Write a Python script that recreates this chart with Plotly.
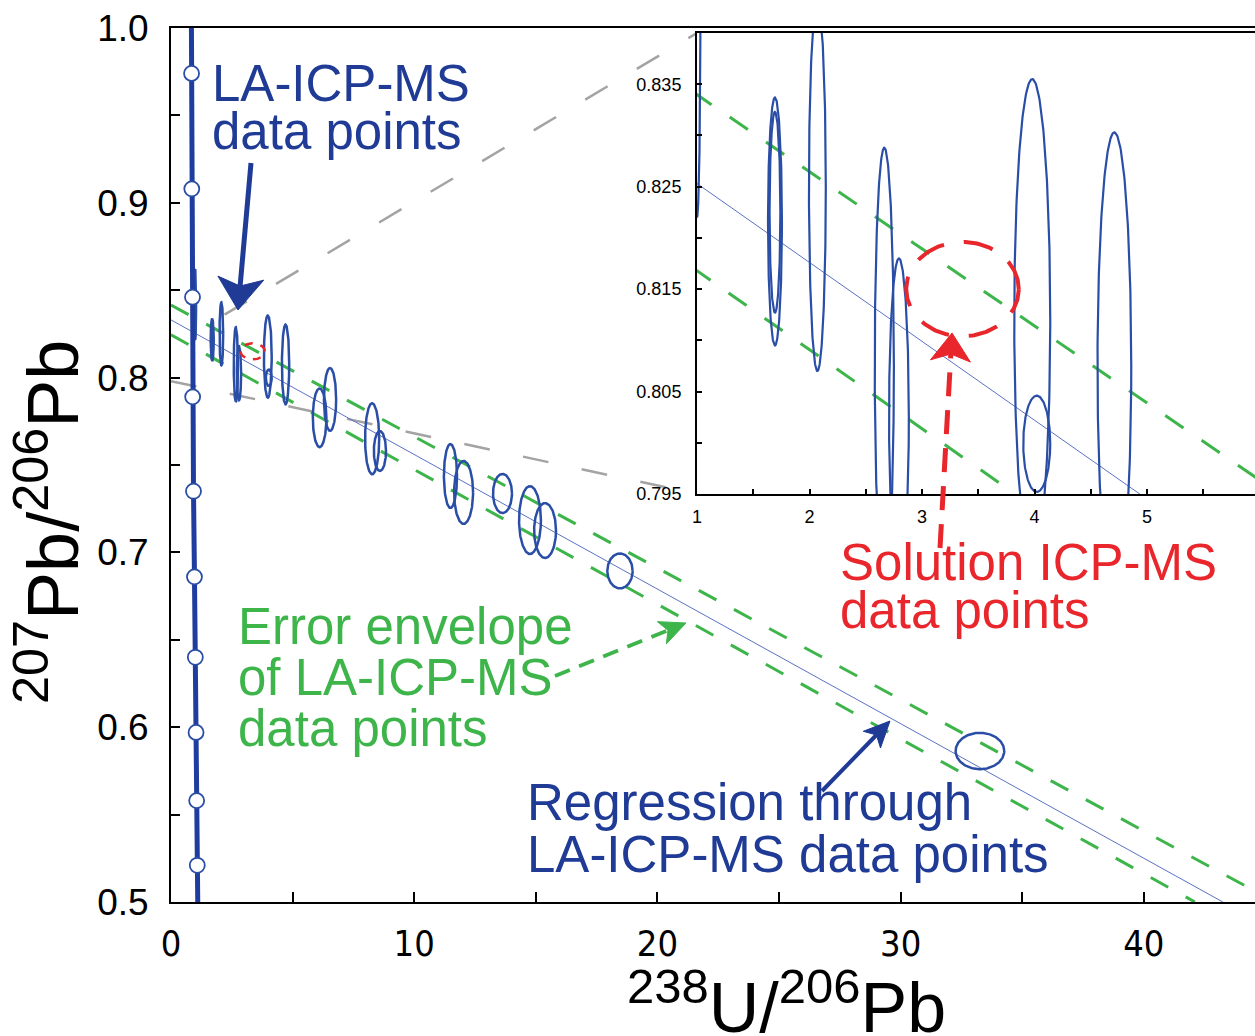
import numpy as np
import plotly.graph_objects as go

# ---------------- data ----------------
# concordia (thick blue curve) and its age-marker circles
conc_x = [0.84, 0.845, 0.855, 0.885, 0.89, 0.925, 0.965, 1.00, 1.03, 1.055, 1.08, 1.10]
conc_y = [1.00, 0.974, 0.908, 0.846, 0.789, 0.735, 0.686, 0.640, 0.597, 0.558, 0.521, 0.50]
mark_x = [0.845, 0.855, 0.885, 0.89, 0.925, 0.965, 1.00, 1.03, 1.055, 1.08]
mark_y = [0.974, 0.908, 0.846, 0.789, 0.735, 0.686, 0.640, 0.597, 0.558, 0.521]

# LA-ICP-MS error ellipses: centre and semi-axes
la_x = [1.00, 1.693, 1.693, 2.07, 2.665, 2.795, 3.98, 4.02, 4.71,
        6.11, 6.54, 8.27, 8.59, 11.49, 12.03, 13.63, 14.76, 15.38, 18.46, 33.26]
la_y = [0.842, 0.8216, 0.8225, 0.825, 0.8075, 0.8025, 0.812, 0.7999, 0.8075,
        0.777, 0.7875, 0.765, 0.758, 0.7437, 0.7343, 0.7337, 0.7185, 0.7125, 0.6894, 0.5864]
la_sx = [0.03, 0.062, 0.048, 0.075, 0.085, 0.088, 0.16, 0.12, 0.15,
         0.28, 0.25, 0.29, 0.25, 0.27, 0.39, 0.39, 0.45, 0.45, 0.52, 1.00]
la_sy = [0.020, 0.0121, 0.0098, 0.018, 0.0213, 0.0155, 0.0235, 0.0047, 0.0228,
         0.0168, 0.018, 0.0203, 0.0114, 0.0183, 0.018, 0.0112, 0.0194, 0.0157, 0.0100, 0.0104]

# solution ICP-MS point
sol_x, sol_y, sol_sx, sol_sy = [3.36], [0.815], [0.50], [0.0046]

# regression and error envelope
reg_x, reg_y = [0.0, 43.25], [0.833, 0.500]
env_up_x, env_up_y = [0.0, 44.6], [0.8415, 0.506]
env_lo_x, env_lo_y = [0.0, 42.1], [0.8245, 0.500]

# zoom-connector start points (main axes)
conn_start_x = [0.0, 2.2]
conn_start_y = [0.798, 0.836]

# axes
main_xticks = [0, 10, 20, 30, 40]
main_xtext = ["0", "10", "20", "30", "40"]
main_yticks = [0.5, 0.6, 0.7, 0.8, 0.9, 1.0]
main_ytext = ["0.5", "0.6", "0.7", "0.8", "0.9", "1.0"]
ins_xticks = [1, 2, 3, 4, 5]
ins_xtext = ["1", "2", "3", "4", "5"]
ins_yticks = [0.795, 0.805, 0.815, 0.825, 0.835]
ins_ytext = ["0.795", "0.805", "0.815", "0.825", "0.835"]

labels = ["LA-ICP-MS", "data points",
          "Error envelope", "of LA-ICP-MS", "data points",
          "Regression through", "LA-ICP-MS data points",
          "Solution ICP-MS", "data points"]

# ---------------- layout geometry ----------------
W, H = 1255, 1036
ML, MR, MT, MB = 171, 0, 28, 134
PW, PH = W - ML - MR, H - MT - MB
XR = [0, 44.57]
YR = [0.5, 1.0]
IXR = [1, 5.96]
IYR = [0.795, 0.840]


def PX(px):
    return (px - ML) / PW


def PY(py):
    return (H - MB - py) / PH


ins_dom_x = [PX(697), 1.0]
ins_dom_y = [PY(494), PY(33)]

BLUE_T = "#1f3b95"
BLUE_E = "#2a4ea6"
BLUE_C = "#1f3d9e"
GREEN = "#3db54a"
RED = "#e8262b"
GREY = "#a3a3a3"
FONT = "Liberation Sans, Arial, sans-serif"
NARROW = "Liberation Sans Narrow, Arial Narrow, DejaVu Sans Condensed, Liberation Sans, sans-serif"


def ellipses(cx, cy, sx, sy):
    t = np.linspace(0, 2 * np.pi, 241)
    xs, ys = [], []
    for a, b, c, d in zip(cx, cy, sx, sy):
        xs += list(a + c * np.cos(t)) + [None]
        ys += list(b + d * np.sin(t)) + [None]
    return xs, ys


fig = go.Figure()

ex, ey = ellipses(la_x, la_y, la_sx, la_sy)
rx, ry = ellipses(sol_x, sol_y, sol_sx, sol_sy)

# ---- grey zoom connectors (main axes) ----
cx0 = ins_dom_x[0] * XR[1]
cyb = YR[0] + ins_dom_y[0] * (YR[1] - YR[0])
cyt = YR[0] + ins_dom_y[1] * (YR[1] - YR[0])
fig.add_trace(go.Scatter(x=[conn_start_x[0], cx0], y=[conn_start_y[0], cyb], mode="lines",
                         line=dict(color=GREY, width=2.5, dash="26px,34px"), xaxis="x", yaxis="y"))
fig.add_trace(go.Scatter(x=[conn_start_x[1], cx0], y=[conn_start_y[1], cyt], mode="lines",
                         line=dict(color=GREY, width=2.5, dash="26px,34px"), xaxis="x", yaxis="y"))

for xa, ya, lw_e, lw_g, dash_g in [("x", "y", 2.5, 3, "20px,20px"), ("x2", "y2", 2.2, 3, "22px,22px")]:
    fig.add_trace(go.Scatter(x=env_up_x, y=env_up_y, mode="lines",
                             line=dict(color=GREEN, width=lw_g, dash=dash_g), xaxis=xa, yaxis=ya))
    fig.add_trace(go.Scatter(x=env_lo_x, y=env_lo_y, mode="lines",
                             line=dict(color=GREEN, width=lw_g, dash=dash_g), xaxis=xa, yaxis=ya))
    fig.add_trace(go.Scatter(x=reg_x, y=reg_y, mode="lines",
                             line=dict(color="#5b72c2", width=1), xaxis=xa, yaxis=ya))
    fig.add_trace(go.Scatter(x=ex, y=ey, mode="lines",
                             line=dict(color=BLUE_E, width=lw_e), xaxis=xa, yaxis=ya))
    fig.add_trace(go.Scatter(x=rx, y=ry, mode="lines",
                             line=dict(color=RED, width=2.5 if xa == "x" else 4,
                                       dash="8px,8px" if xa == "x" else "30px,20px"),
                             xaxis=xa, yaxis=ya))
    fig.add_trace(go.Scatter(x=conc_x, y=conc_y, mode="lines",
                             line=dict(color=BLUE_C, width=5), xaxis=xa, yaxis=ya))

fig.add_trace(go.Scatter(x=mark_x, y=mark_y, mode="markers",
                         marker=dict(size=15, color="white", line=dict(color=BLUE_E, width=1.8)),
                         xaxis="x", yaxis="y"))

# ---------------- annotations (text) ----------------
text_pos = [(210, 101, BLUE_T), (210, 149, BLUE_T),
            (236, 644, GREEN), (236, 695, GREEN), (236, 746, GREEN),
            (525, 820, BLUE_T), (525, 872, BLUE_T),
            (838, 580, RED), (838, 628, RED)]
FS = 51
annotations = []
for s, (px, py, col) in zip(labels, text_pos):
    annotations.append(dict(text=s, xref="paper", yref="paper", x=PX(px), y=PY(py - 0.3465 * FS),
                            xanchor="left", yanchor="middle", showarrow=False,
                            font=dict(family=FONT, size=FS, color=col)))

annotations.append(dict(text="<sup>207</sup>Pb/<sup>206</sup>Pb", xref="paper", yref="paper",
                        x=PX(47), y=PY(522), xanchor="center", yanchor="middle", textangle=-90,
                        showarrow=False, font=dict(family=FONT, size=72, color="black")))
annotations.append(dict(text="<sup>238</sup>U/<sup>206</sup>Pb", xref="paper", yref="paper",
                        x=PX(786), y=PY(1003), xanchor="center", yanchor="middle",
                        showarrow=False, font=dict(family=FONT, size=70, color="black")))

# ---------------- arrows (shapes) ----------------
shapes = []


def arrow(tail, tip, color, width, L, Wd, dash=None):
    tx, ty = tail
    hx, hy = tip
    ux, uy = hx - tx, hy - ty
    n = (ux ** 2 + uy ** 2) ** 0.5
    ux, uy = ux / n, uy / n
    nx, ny = -uy, ux
    bx, by = hx - ux * L, hy - uy * L
    kx, ky = hx - ux * L * 0.75, hy - uy * L * 0.75
    line = dict(color=color, width=width)
    if dash:
        line["dash"] = dash
    shapes.append(dict(type="line", xref="paper", yref="paper", x0=PX(tx), y0=PY(ty),
                       x1=PX(kx), y1=PY(ky), line=line, layer="above"))
    pts = [(hx, hy), (bx + nx * Wd, by + ny * Wd), (kx, ky), (bx - nx * Wd, by - ny * Wd)]
    path = "M " + " L ".join(f"{PX(a):.5f},{PY(b):.5f}" for a, b in pts) + " Z"
    shapes.append(dict(type="path", xref="paper", yref="paper", path=path,
                       fillcolor=color, line=dict(color=color, width=1), layer="above"))


arrow((251, 163), (238, 310), BLUE_T, 5, 32, 23)
arrow((555, 676), (686, 623), GREEN, 4, 26, 12, dash="16px,10px")
arrow((822, 791), (890, 721), BLUE_T, 4, 26, 12)
arrow((940, 548), (952, 333), RED, 5, 28, 20, dash="24px,14px")

fig.update_layout(
    width=W, height=H, margin=dict(l=ML, r=MR, t=MT, b=MB, pad=0),
    paper_bgcolor="white", plot_bgcolor="white", showlegend=False,
    annotations=annotations, shapes=shapes,
    xaxis=dict(range=XR, domain=[0, 1], anchor="y", showgrid=False, zeroline=False,
               showline=True, linecolor="black", linewidth=2, mirror=True,
               ticks="inside", ticklen=10, tickwidth=2, tickcolor="black",
               tickvals=main_xticks, ticktext=main_xtext, ticklabelstandoff=9,
               minor=dict(dtick=5, tick0=0, ticks="inside", ticklen=10, tickwidth=2, tickcolor="black"),
               tickfont=dict(family=NARROW, size=36, color="black")),
    yaxis=dict(range=YR, domain=[0, 1], anchor="x", showgrid=False, zeroline=False,
               showline=True, linecolor="black", linewidth=2,
               ticks="inside", ticklen=9, tickwidth=2, tickcolor="black",
               tickvals=main_yticks, ticktext=main_ytext, ticklabelstandoff=13,
               minor=dict(dtick=0.05, tick0=0.5, ticks="inside", ticklen=9, tickwidth=2, tickcolor="black"),
               tickfont=dict(family=FONT, size=37, color="black")),
    xaxis2=dict(range=IXR, domain=ins_dom_x, anchor="y2", showgrid=False, zeroline=False,
                showline=True, linecolor="black", linewidth=2, mirror=True,
                ticks="inside", ticklen=5, tickwidth=1.5, tickcolor="black",
                tickvals=ins_xticks, ticktext=ins_xtext, ticklabelstandoff=5,
                minor=dict(dtick=0.5, tick0=1, ticks="inside", ticklen=5, tickwidth=1.5, tickcolor="black"),
                tickfont=dict(family=FONT, size=18, color="black")),
    yaxis2=dict(range=IYR, domain=ins_dom_y, anchor="x2", showgrid=False, zeroline=False,
                showline=True, linecolor="black", linewidth=2,
                ticks="inside", ticklen=5, tickwidth=1.5, tickcolor="black",
                tickvals=ins_yticks, ticktext=ins_ytext, ticklabelstandoff=10,
                minor=dict(dtick=0.005, tick0=0.795, ticks="inside", ticklen=5, tickwidth=1.5, tickcolor="black"),
                tickfont=dict(family=FONT, size=18, color="black")),
)

fig.write_html("out.html", config={"displayModeBar": False},
               post_script="document.body.style.margin='0px';")
